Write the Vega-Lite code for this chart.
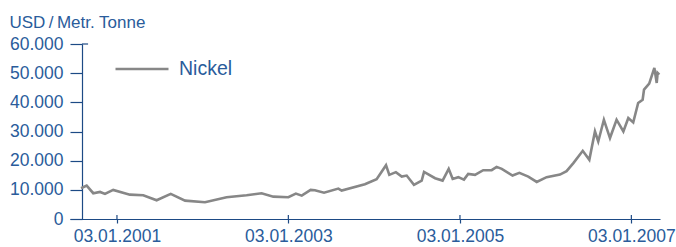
{
  "$schema": "https://vega.github.io/schema/vega-lite/v6.json",
  "width": 590,
  "height": 175,
  "autosize": "none",
  "padding": {"left": 70, "top": 44, "right": 16, "bottom": 28},
  "background": "white",
  "config": {
    "view": {"stroke": null},
    "font": "Liberation Sans",
    "axisY": {"tickCount": 7}
  },
  "datasets": {
    "nickel": [
      {"date": "2000-08-03", "price": 10550, "series": "Nickel"},
      {"date": "2000-08-27", "price": 11450, "series": "Nickel"},
      {"date": "2000-09-24", "price": 8840, "series": "Nickel"},
      {"date": "2000-10-23", "price": 9280, "series": "Nickel"},
      {"date": "2000-11-13", "price": 8600, "series": "Nickel"},
      {"date": "2000-12-18", "price": 9970, "series": "Nickel"},
      {"date": "2001-02-27", "price": 8350, "series": "Nickel"},
      {"date": "2001-04-25", "price": 8150, "series": "Nickel"},
      {"date": "2001-06-21", "price": 6430, "series": "Nickel"},
      {"date": "2001-08-20", "price": 8600, "series": "Nickel"},
      {"date": "2001-10-20", "price": 6290, "series": "Nickel"},
      {"date": "2002-01-13", "price": 5740, "series": "Nickel"},
      {"date": "2002-04-15", "price": 7460, "series": "Nickel"},
      {"date": "2002-07-09", "price": 8150, "series": "Nickel"},
      {"date": "2002-09-11", "price": 8840, "series": "Nickel"},
      {"date": "2002-10-31", "price": 7670, "series": "Nickel"},
      {"date": "2003-01-03", "price": 7460, "series": "Nickel"},
      {"date": "2003-02-04", "price": 8700, "series": "Nickel"},
      {"date": "2003-03-01", "price": 8010, "series": "Nickel"},
      {"date": "2003-04-08", "price": 9970, "series": "Nickel"},
      {"date": "2003-04-26", "price": 9870, "series": "Nickel"},
      {"date": "2003-06-04", "price": 9040, "series": "Nickel"},
      {"date": "2003-08-04", "price": 10420, "series": "Nickel"},
      {"date": "2003-08-18", "price": 9730, "series": "Nickel"},
      {"date": "2003-11-25", "price": 11930, "series": "Nickel"},
      {"date": "2004-01-14", "price": 13650, "series": "Nickel"},
      {"date": "2004-02-23", "price": 18460, "series": "Nickel"},
      {"date": "2004-03-08", "price": 15130, "series": "Nickel"},
      {"date": "2004-04-05", "price": 16060, "series": "Nickel"},
      {"date": "2004-04-30", "price": 14540, "series": "Nickel"},
      {"date": "2004-05-21", "price": 14890, "series": "Nickel"},
      {"date": "2004-06-21", "price": 11690, "series": "Nickel"},
      {"date": "2004-07-24", "price": 13170, "series": "Nickel"},
      {"date": "2004-08-03", "price": 16160, "series": "Nickel"},
      {"date": "2004-09-19", "price": 13990, "series": "Nickel"},
      {"date": "2004-10-21", "price": 13170, "series": "Nickel"},
      {"date": "2004-11-16", "price": 17190, "series": "Nickel"},
      {"date": "2004-12-03", "price": 13750, "series": "Nickel"},
      {"date": "2004-12-27", "price": 14340, "series": "Nickel"},
      {"date": "2005-01-20", "price": 13510, "series": "Nickel"},
      {"date": "2005-02-07", "price": 15470, "series": "Nickel"},
      {"date": "2005-03-08", "price": 15130, "series": "Nickel"},
      {"date": "2005-04-12", "price": 16740, "series": "Nickel"},
      {"date": "2005-05-18", "price": 16740, "series": "Nickel"},
      {"date": "2005-06-08", "price": 17880, "series": "Nickel"},
      {"date": "2005-06-30", "price": 17190, "series": "Nickel"},
      {"date": "2005-08-15", "price": 14890, "series": "Nickel"},
      {"date": "2005-09-13", "price": 15820, "series": "Nickel"},
      {"date": "2005-10-21", "price": 14540, "series": "Nickel"},
      {"date": "2005-11-26", "price": 12720, "series": "Nickel"},
      {"date": "2006-01-07", "price": 14340, "series": "Nickel"},
      {"date": "2006-03-05", "price": 15230, "series": "Nickel"},
      {"date": "2006-04-02", "price": 16400, "series": "Nickel"},
      {"date": "2006-05-01", "price": 19150, "series": "Nickel"},
      {"date": "2006-06-10", "price": 23380, "series": "Nickel"},
      {"date": "2006-07-08", "price": 20280, "series": "Nickel"},
      {"date": "2006-08-01", "price": 30010, "series": "Nickel"},
      {"date": "2006-08-15", "price": 26580, "series": "Nickel"},
      {"date": "2006-09-08", "price": 34040, "series": "Nickel"},
      {"date": "2006-10-04", "price": 27750, "series": "Nickel"},
      {"date": "2006-11-01", "price": 34040, "series": "Nickel"},
      {"date": "2006-11-30", "price": 30010, "series": "Nickel"},
      {"date": "2006-12-21", "price": 34620, "series": "Nickel"},
      {"date": "2007-01-11", "price": 33110, "series": "Nickel"},
      {"date": "2007-02-01", "price": 39780, "series": "Nickel"},
      {"date": "2007-02-20", "price": 40910, "series": "Nickel"},
      {"date": "2007-02-26", "price": 44350, "series": "Nickel"},
      {"date": "2007-03-20", "price": 46410, "series": "Nickel"},
      {"date": "2007-04-11", "price": 51810, "series": "Nickel"},
      {"date": "2007-04-21", "price": 46650, "series": "Nickel"},
      {"date": "2007-04-25", "price": 50090, "series": "Nickel"},
      {"date": "2007-05-02", "price": 49510, "series": "Nickel"}
    ],
    "ticks": [
      {"date": "2001-01-03"},
      {"date": "2003-01-03"},
      {"date": "2005-01-03"},
      {"date": "2007-01-03"}
    ]
  },
  "layer": [
    {
      "data": {"name": "nickel"},
      "mark": {"type": "line", "strokeWidth": 2.6, "strokeJoin": "miter", "clip": false},
      "encoding": {
        "x": {
          "field": "date",
          "type": "temporal",
          "scale": {
            "type": "utc",
            "domain": [
              {"year": 2000, "month": 6, "date": 17, "utc": true},
              {"year": 2007, "month": 5, "date": 5, "utc": true}
            ]
          },
          "axis": {
            "title": null,
            "grid": false,
            "values": [
              {"year": 2001, "month": 1, "date": 3, "utc": true},
              {"year": 2003, "month": 1, "date": 3, "utc": true},
              {"year": 2005, "month": 1, "date": 3, "utc": true},
              {"year": 2007, "month": 1, "date": 3, "utc": true}
            ],
            "format": "%d.%m.%Y",
            "domainColor": "#1d4a85",
            "domainWidth": 1.2,
            "tickColor": "#1d4a85",
            "tickWidth": 1.2,
            "tickSize": 4,
            "labelPadding": 4,
            "labelFont": "Liberation Sans",
            "labelFontSize": 17.5,
            "labelColor": "#2a5c9b",
            "labelFlush": false,
            "labelOverlap": false
          }
        },
        "y": {
          "field": "price",
          "type": "quantitative",
          "scale": {"domain": [0, 60000], "nice": false, "zero": true},
          "axis": {
            "title": "USD\u2009/\u2009Metr. Tonne",
            "titleAngle": 0,
            "titleAlign": "left",
            "titleBaseline": "alphabetic",
            "titleX": -73,
            "titleY": -17,
            "titleFont": "Liberation Sans",
            "titleFontSize": 17,
            "titleFontWeight": "normal",
            "titleColor": "#2a5c9b",
            "offset": -12,
            "grid": false,
            "tickCount": 7,
            "values": [0, 10000, 20000, 30000, 40000, 50000, 60000],
            "labelExpr": "replace(format(datum.value, ',d'), ',', '.')",
            "labelOverlap": false,
            "domainColor": "#1d4a85",
            "domainWidth": 1.2,
            "tickColor": "#1d4a85",
            "tickWidth": 1.2,
            "tickSize": 12,
            "labelPadding": 7,
            "labelFont": "Liberation Sans",
            "labelFontSize": 17.5,
            "labelColor": "#2a5c9b",
            "labelFlush": false
          }
        },
        "color": {
          "field": "series",
          "type": "nominal",
          "scale": {"range": ["#878787"]},
          "legend": {
            "title": null,
            "orient": "none",
            "legendX": 44,
            "legendY": -3,
            "symbolType": "stroke",
            "symbolSize": 2809,
            "symbolStrokeWidth": 2.6,
            "labelFont": "Liberation Sans",
            "labelFontSize": 19.5,
            "labelColor": "#2a5c9b",
            "labelOffset": 9
          }
        }
      }
    },
    {
      "data": {"name": "ticks"},
      "mark": {"type": "rule", "color": "#1d4a85", "strokeWidth": 1.2, "clip": false},
      "encoding": {
        "x": {"field": "date", "type": "temporal"},
        "y": {"datum": 0},
        "y2": {"datum": 1400}
      }
    },
    {
      "data": {"values": [{"a": 1}]},
      "mark": {"type": "rule", "color": "#1d4a85", "strokeWidth": 1.2},
      "encoding": {
        "x": {"datum": {"year": 2000, "month": 8, "date": 7, "utc": true}},
        "x2": {"datum": {"year": 2000, "month": 9, "date": 2, "utc": true}},
        "y": {"datum": 60000}
      }
    }
  ]
}
